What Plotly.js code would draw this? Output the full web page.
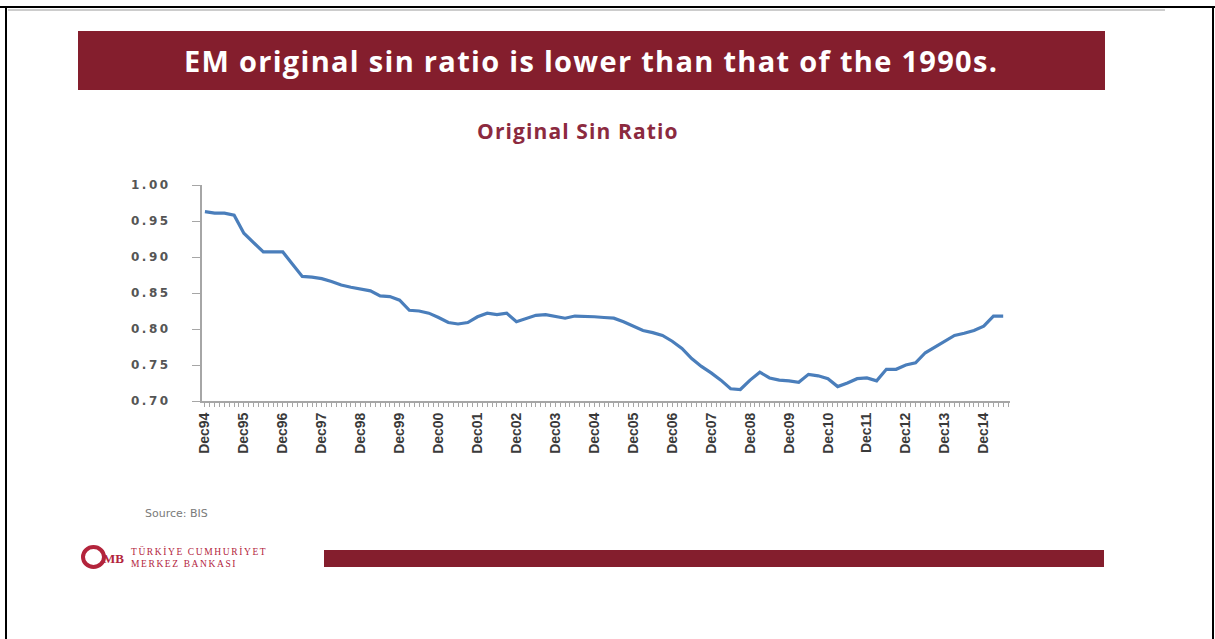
<!DOCTYPE html>
<html>
<head>
<meta charset="utf-8">
<script src="https://cdn.plot.ly/plotly-3.0.1.min.js"></script>
<style>
  html, body { margin: 0; padding: 0; background: #ffffff; }
  #chart { width: 1215px; height: 639px; }
  .ytick text { letter-spacing: 2.5px; }
  g.annotation[data-index="0"] text { letter-spacing: 1.3px; }
  g.annotation[data-index="1"] text { letter-spacing: 1.1px; }
  g.annotation[data-index="4"] text { letter-spacing: 1.6px; }
</style>
</head>
<body>
<div id="chart"></div>
<script>
// ---------- data ----------
const quarterMonths = ['Mar', 'Jun', 'Sep', 'Dec'];
const quarters = ['Dec94'];
for (let y = 1995; y <= 2015; y++) {
  for (const m of quarterMonths) {
    if (y === 2015 && (m === 'Sep' || m === 'Dec')) continue;
    quarters.push(m + String(y % 100).padStart(2, '0'));
  }
}
const originalSinRatio = [
  0.963, 0.961, 0.961, 0.958, 0.933, 0.920, 0.907, 0.907, 0.907, 0.890,
  0.873, 0.872, 0.870, 0.866, 0.861, 0.858, 0.855, 0.853, 0.846, 0.845,
  0.840, 0.826, 0.825, 0.822, 0.816, 0.809, 0.807, 0.809, 0.817, 0.822,
  0.820, 0.822, 0.810, 0.815, 0.819, 0.820, 0.817, 0.815, 0.818, 0.818,
  0.817, 0.816, 0.815, 0.810, 0.804, 0.798, 0.795, 0.791, 0.783, 0.773,
  0.759, 0.748, 0.739, 0.729, 0.717, 0.716, 0.729, 0.740, 0.732, 0.729,
  0.728, 0.726, 0.737, 0.735, 0.731, 0.720, 0.725, 0.731, 0.732, 0.728,
  0.744, 0.744, 0.750, 0.753, 0.767, 0.775, 0.784, 0.791, 0.794, 0.798,
  0.804, 0.818, 0.818
];
const yTickValues = [0.70, 0.75, 0.80, 0.85, 0.90, 0.95, 1.00];
const xTickLabels = ['Dec94','Dec95','Dec96','Dec97','Dec98','Dec99','Dec00','Dec01','Dec02','Dec03',
                     'Dec04','Dec05','Dec06','Dec07','Dec08','Dec09','Dec10','Dec11','Dec12','Dec13','Dec14'];
const headline = 'EM original sin ratio is lower than that of the 1990s.';
const chartTitle = 'Original Sin Ratio';
const sourceNote = 'Source: BIS';
const bankLine1 = 'TÜRKİYE CUMHURİYET';
const bankLine2 = 'MERKEZ BANKASI';

// ---------- layout helpers (pixel -> paper) ----------
const W = 1215, H = 639;
const M = { l: 202, r: 205, t: 185, b: 238 };
const PW = W - M.l - M.r, PH = H - M.t - M.b;
const px = x => (x - M.l) / PW;
const py = y => (H - M.b - y) / PH;

// x ticks: a small tick every half quarter, labels on the December quarters
const tickVals = [], tickText = [];
for (let i = 0; i < quarters.length; i++) {
  tickVals.push(i);
  tickText.push(xTickLabels.includes(quarters[i]) ? quarters[i] : '');
  tickVals.push(i + 0.5);
  tickText.push('');
}

const RED = '#841e2d';
const LOGO = '#b3243c';

const trace = {
  type: 'scatter',
  mode: 'lines',
  x: quarters,
  y: originalSinRatio,
  line: { color: '#4a7ebb', width: 3.2 },
  hoverinfo: 'x+y'
};

const shapes = [
  // frame
  { type: 'line', xref: 'paper', yref: 'paper', x0: px(0), x1: px(1215), y0: py(7), y1: py(7), line: { color: '#000', width: 2 } },
  { type: 'line', xref: 'paper', yref: 'paper', x0: px(8), x1: px(1165), y0: py(10), y1: py(10), line: { color: '#9a9a9a', width: 1 } },
  { type: 'line', xref: 'paper', yref: 'paper', x0: px(6), x1: px(6), y0: py(7), y1: py(639), line: { color: '#000', width: 2 } },
  { type: 'line', xref: 'paper', yref: 'paper', x0: px(1213), x1: px(1213), y0: py(7), y1: py(639), line: { color: '#000', width: 2 } },
  // headline banner
  { type: 'rect', xref: 'paper', yref: 'paper', x0: px(78), x1: px(1105), y0: py(31), y1: py(90), fillcolor: RED, line: { width: 0 } },
  // bottom bar
  { type: 'rect', xref: 'paper', yref: 'paper', x0: px(324), x1: px(1104), y0: py(550), y1: py(567), fillcolor: RED, line: { width: 0 } },
  // logo ring (approximation of the emblem)
  { type: 'circle', xref: 'paper', yref: 'paper', x0: px(83), x1: px(104), y0: py(547), y1: py(567), fillcolor: 'rgba(0,0,0,0)', line: { color: LOGO, width: 4 } }
];

const annotations = [
  { xref: 'paper', yref: 'paper', x: px(591), y: py(61), text: '<b>' + headline + '</b>', showarrow: false,
    xanchor: 'center', yanchor: 'middle', font: { family: 'Open Sans, sans-serif', size: 29, color: '#ffffff' } },
  { xref: 'paper', yref: 'paper', x: px(578), y: py(131), text: '<b>' + chartTitle + '</b>', showarrow: false,
    xanchor: 'center', yanchor: 'middle', font: { family: 'Open Sans, sans-serif', size: 21, color: '#8c2a3f' } },
  { xref: 'paper', yref: 'paper', x: px(143), y: py(513), text: sourceNote, showarrow: false,
    xanchor: 'left', yanchor: 'middle', font: { family: 'DejaVu Sans, sans-serif', size: 11, color: '#7a7a7a' } },
  // logo letters
  { xref: 'paper', yref: 'paper', x: px(101), y: py(558), text: '<b>MB</b>', showarrow: false,
    xanchor: 'left', yanchor: 'middle', font: { family: 'Liberation Serif, serif', size: 13, color: LOGO } },
  { xref: 'paper', yref: 'paper', x: px(129), y: py(557), text: bankLine1 + '<br>' + bankLine2, showarrow: false,
    align: 'left', xanchor: 'left', yanchor: 'middle', font: { family: 'Liberation Serif, serif', size: 9.5, color: LOGO } }
];

const layout = {
  width: W, height: H,
  margin: M,
  paper_bgcolor: '#ffffff',
  plot_bgcolor: '#ffffff',
  showlegend: false,
  xaxis: {
    type: 'category',
    range: [-0.3, 82.7],
    showgrid: false, zeroline: false,
    showline: true, linecolor: '#a6a6a6', linewidth: 2,
    ticks: 'outside', ticklen: 4, tickcolor: '#a6a6a6', tickwidth: 1,
    tickmode: 'array', tickvals: tickVals, ticktext: tickText,
    tickangle: -90,
    tickfont: { family: 'Liberation Sans, Arial, sans-serif', size: 14, weight: 'bold', color: '#3a3a3a' },
    fixedrange: true
  },
  yaxis: {
    range: [0.70, 1.00],
    showgrid: false, zeroline: false,
    showline: true, linecolor: '#a6a6a6', linewidth: 2,
    ticks: 'outside', ticklen: 8, tickcolor: '#a6a6a6', tickwidth: 1,
    tickmode: 'array', tickvals: yTickValues,
    tickformat: '.2f',
    ticklabelstandoff: 19,
    tickfont: { family: 'DejaVu Sans, sans-serif', size: 12, weight: 'bold', color: '#555555' },
    fixedrange: true
  },
  shapes: shapes,
  annotations: annotations
};

Plotly.newPlot('chart', [trace], layout, { displayModeBar: false, staticPlot: true });
</script>
</body>
</html>
